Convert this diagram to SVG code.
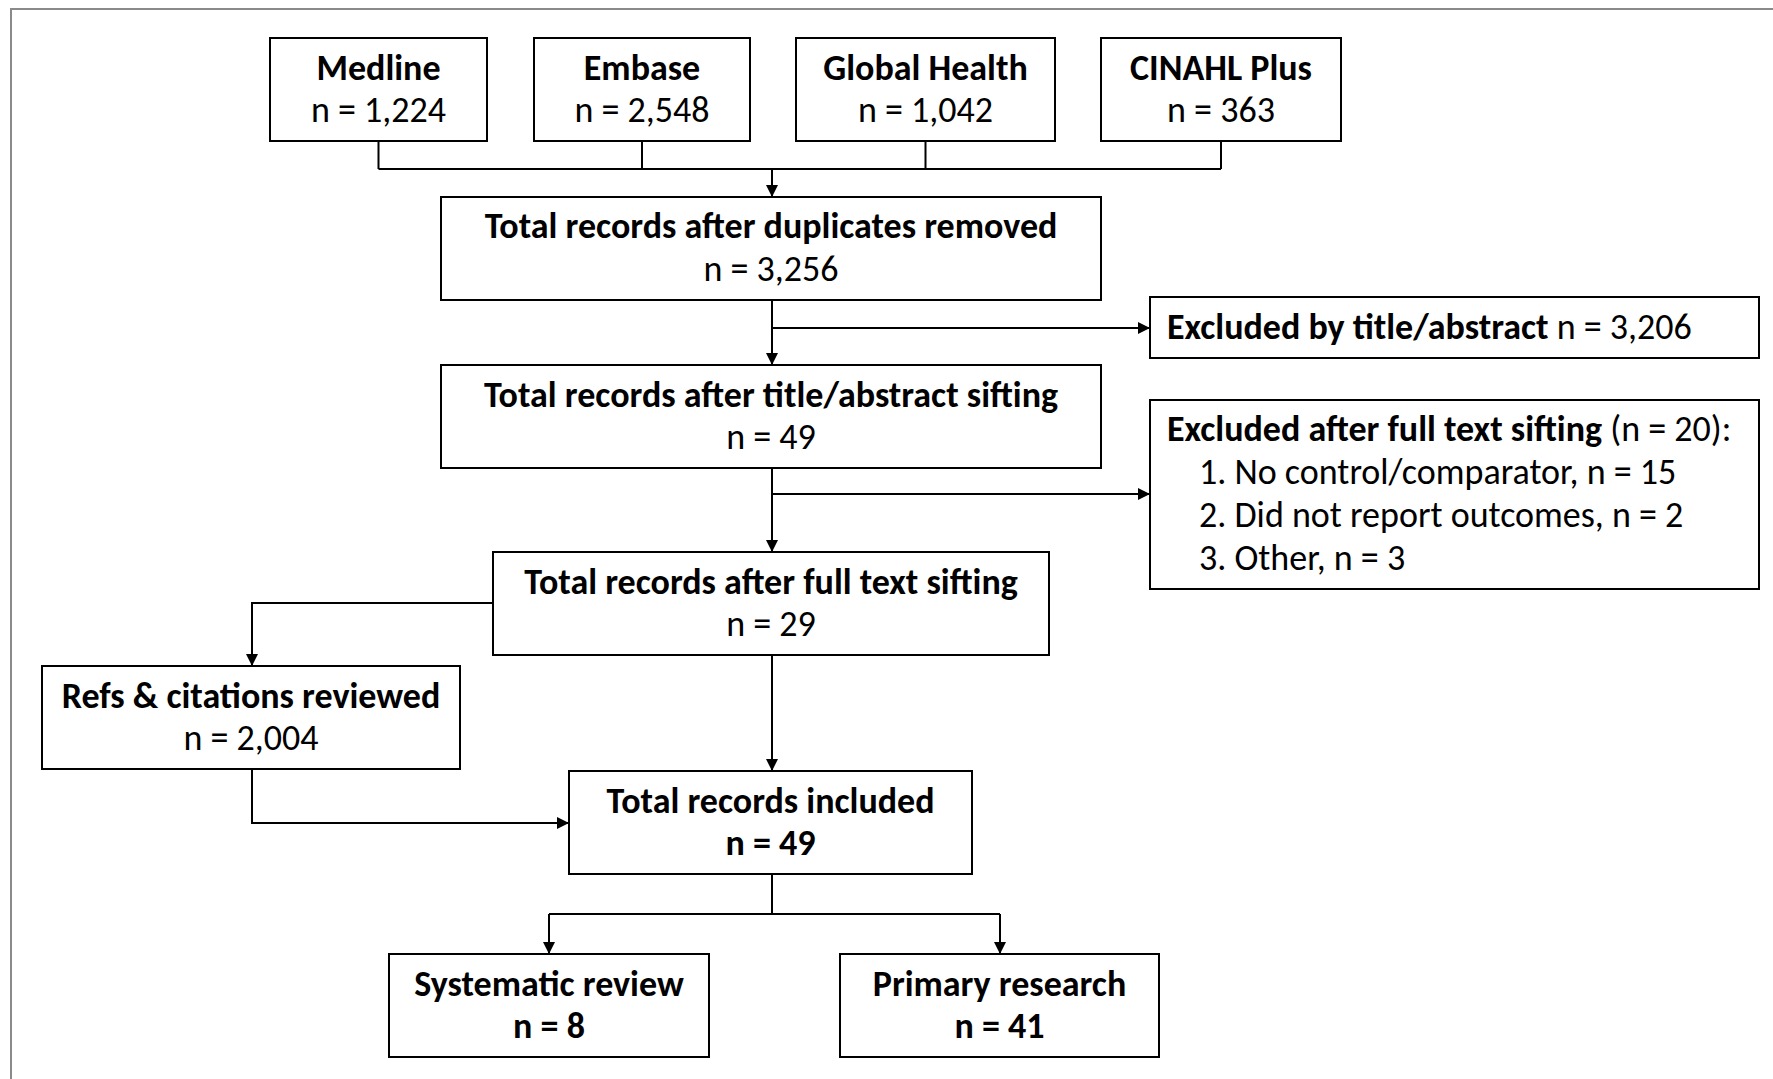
<svg xmlns="http://www.w3.org/2000/svg" width="1773" height="1079" viewBox="0 0 1773 1079">
<defs>
<style>
.box{fill:#fff;stroke:#000;stroke-width:2}
.t{font-family:Carlito,Calibri,"Liberation Sans",Arial,sans-serif;font-size:36px;fill:#000}
.c{text-anchor:middle}
.b{font-weight:bold}
.ln{fill:none;stroke:#000;stroke-width:2}
.ar{marker-end:url(#arrow)}
</style>
<marker id="arrow" markerUnits="userSpaceOnUse" markerWidth="12" markerHeight="12" refX="12" refY="6" orient="auto" viewBox="0 0 12 12">
<path d="M0,0 L12,6 L0,12 z" fill="#000"/>
</marker>
</defs>
<rect x="0" y="0" width="1773" height="1079" fill="#fff"/>
<rect x="11" y="9" width="1800" height="1100" fill="none" stroke="#8a8a8a" stroke-width="2"/>

<g id="connectors">
<path class="ln" d="M378.5,141 V169 M642,141 V169 M925.5,141 V169 M1221,141 V169 M378.5,169 H1221"/>
<path class="ln ar" d="M772,169 V197"/>
<path class="ln ar" d="M772,300 V365"/>
<path class="ln ar" d="M772,328 H1150"/>
<path class="ln ar" d="M772,468 V552"/>
<path class="ln ar" d="M772,494 H1150"/>
<path class="ln ar" d="M493,603 H252 V666"/>
<path class="ln ar" d="M772,655 V771"/>
<path class="ln ar" d="M252,769 V823 H569"/>
<path class="ln" d="M772,874 V914 M549,914 H1000"/>
<path class="ln ar" d="M549,914 V954"/>
<path class="ln ar" d="M1000,914 V954"/>
</g>

<g id="medline">
<rect class="box" x="270" y="38" width="217" height="103"/>
<text class="t c b" x="378.5" y="80">Medline</text>
<text class="t c" x="378.5" y="122">n = 1,224</text>
</g>
<g id="embase">
<rect class="box" x="534" y="38" width="216" height="103"/>
<text class="t c b" x="642" y="80">Embase</text>
<text class="t c" x="642" y="122">n = 2,548</text>
</g>
<g id="global-health">
<rect class="box" x="796" y="38" width="259" height="103"/>
<text class="t c b" x="925.5" y="80">Global Health</text>
<text class="t c" x="925.5" y="122">n = 1,042</text>
</g>
<g id="cinahl">
<rect class="box" x="1101" y="38" width="240" height="103"/>
<text class="t c b" x="1221" y="80">CINAHL Plus</text>
<text class="t c" x="1221" y="122">n = 363</text>
</g>
<g id="duplicates-removed">
<rect class="box" x="441" y="197" width="660" height="103"/>
<text class="t c b" x="771" y="238">Total records after duplicates removed</text>
<text class="t c" x="771" y="281">n = 3,256</text>
</g>
<g id="excluded-title-abstract">
<rect class="box" x="1150" y="297" width="609" height="61"/>
<text class="t" x="1167" y="339"><tspan class="b">Excluded by title/abstract</tspan> n = 3,206</text>
</g>
<g id="title-abstract-sifting">
<rect class="box" x="441" y="365" width="660" height="103"/>
<text class="t c b" x="771" y="407">Total records after title/abstract sifting</text>
<text class="t c" x="771" y="449">n = 49</text>
</g>
<g id="excluded-full-text">
<rect class="box" x="1150" y="400" width="609" height="189"/>
<text class="t" x="1167" y="441"><tspan class="b">Excluded after full text sifting</tspan> (n = 20):</text>
<text class="t" x="1199" y="484">1. No control/comparator, n = 15</text>
<text class="t" x="1199" y="527">2. Did not report outcomes, n = 2</text>
<text class="t" x="1199" y="570">3. Other, n = 3</text>
</g>
<g id="full-text-sifting">
<rect class="box" x="493" y="552" width="556" height="103"/>
<text class="t c b" x="771" y="594">Total records after full text sifting</text>
<text class="t c" x="771" y="636">n = 29</text>
</g>
<g id="refs-citations">
<rect class="box" x="42" y="666" width="418" height="103"/>
<text class="t c b" x="251" y="708">Refs &amp; citations reviewed</text>
<text class="t c" x="251" y="750">n = 2,004</text>
</g>
<g id="total-included">
<rect class="box" x="569" y="771" width="403" height="103"/>
<text class="t c b" x="770.5" y="813">Total records included</text>
<text class="t c b" x="770.5" y="855">n = 49</text>
</g>
<g id="systematic-review">
<rect class="box" x="389" y="954" width="320" height="103"/>
<text class="t c b" x="549" y="996">Systematic review</text>
<text class="t c b" x="549" y="1038">n = 8</text>
</g>
<g id="primary-research">
<rect class="box" x="840" y="954" width="319" height="103"/>
<text class="t c b" x="999.5" y="996">Primary research</text>
<text class="t c b" x="999.5" y="1038">n = 41</text>
</g>
</svg>
